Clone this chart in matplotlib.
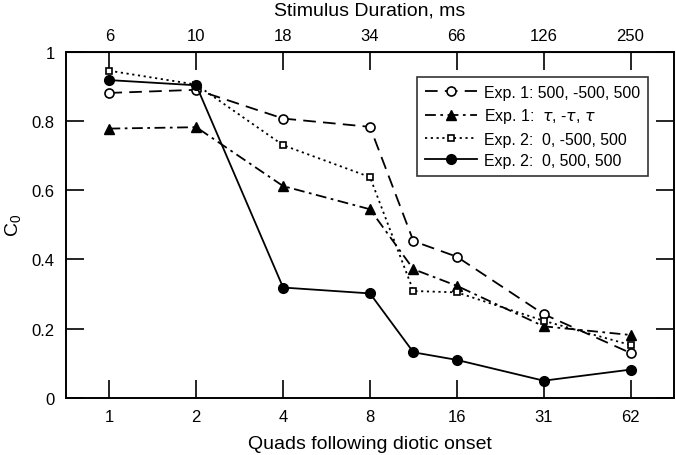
import numpy as np
import matplotlib
matplotlib.use('Agg')
import matplotlib.pyplot as plt

plt.rcParams['font.family'] = ['Liberation Sans', 'DejaVu Sans']
plt.rcParams['mathtext.default'] = 'regular'

# tick categories (evenly spaced on the axis)
quads = ['1', '2', '4', '8', '16', '31', '62']
durations = ['6', '10', '18', '34', '66', '126', '250']
tick_pos = [0, 1, 2, 3, 4, 5, 6]

# data positions (one extra point between 8 and 16)
x_pos = [0, 1, 2, 3, 3.5, 4, 5, 6]

exp1_500 = [0.881, 0.890, 0.807, 0.783, 0.453, 0.408, 0.242, 0.130]
exp1_tau = [0.778, 0.782, 0.612, 0.545, 0.372, 0.324, 0.207, 0.182]
exp2_neg = [0.945, 0.905, 0.730, 0.638, 0.309, 0.305, 0.223, 0.153]
exp2_pos = [0.918, 0.903, 0.319, 0.302, 0.132, 0.110, 0.050, 0.082]

labels = ['Exp. 1: 500, -500, 500',
          r'Exp. 1:  $\it{\tau}$, -$\it{\tau}$, $\it{\tau}$',
          'Exp. 2:  0, -500, 500',
          'Exp. 2:  0, 500, 500']

fig = plt.figure(figsize=(6.76, 4.56), dpi=100)
ax = fig.add_axes([0.0976, 0.125, 0.8994, 0.7594])

ax.plot(x_pos, exp1_500, color='black', lw=1.3, dashes=(7, 4), marker='o',
        ms=6.5, mfc='white', mec='black', mew=1.2, label=labels[0])
ax.plot(x_pos, exp1_tau, color='black', lw=1.3, dashes=(6, 2.5, 1.5, 2.5), marker='^',
        ms=7, mfc='black', mec='black', label=labels[1])
ax.plot(x_pos, exp2_neg, color='black', lw=1.3, dashes=(1.2, 2), marker='s',
        ms=4.8, mfc='white', mec='black', mew=1.2, label=labels[2])
ax.plot(x_pos, exp2_pos, color='black', lw=1.3, ls='-', marker='o',
        ms=7, mfc='black', mec='black', label=labels[3])

ax.set_xlim(-0.5, 6.5)
ax.set_ylim(0, 1)
ax.set_xticks(tick_pos)
ax.set_xticklabels(quads)
ax.set_yticks([0, 0.2, 0.4, 0.6, 0.8, 1])
ax.set_yticklabels(['0', '0.2', '0.4', '0.6', '0.8', '1'])
ax.tick_params(direction='in', length=13, width=1.2, labelsize=12,
               right=True, pad=8)
for s in ax.spines.values():
    s.set_linewidth(1.4)

ax.set_xlabel('Quads following diotic onset', fontsize=14, labelpad=8)
ax.set_ylabel('C$_0$', fontsize=14, labelpad=6)

top = ax.secondary_xaxis('top')
top.set_xticks(tick_pos)
top.set_xticklabels(durations)
top.tick_params(direction='in', length=13, width=1.2, labelsize=12, pad=6)
top.set_xlabel('Stimulus Duration, ms', fontsize=14, labelpad=10)

leg = ax.legend(loc='upper right', bbox_to_anchor=(0.97, 0.95), fontsize=11.4,
                frameon=True, fancybox=False, edgecolor='black', handlelength=3.3,
                handletextpad=0.4, labelspacing=0.4, borderpad=0.5)
leg.get_frame().set_linewidth(1.2)

fig.savefig('out.png', dpi=100)
